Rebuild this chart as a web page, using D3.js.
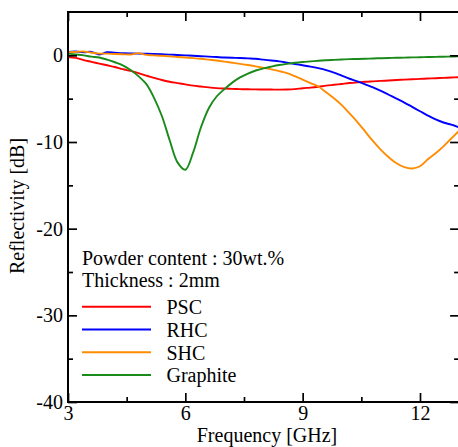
<!DOCTYPE html>
<html>
<head>
<meta charset="utf-8">
<script src="https://cdn.jsdelivr.net/npm/d3@7"></script>
<style>
  html, body { margin: 0; padding: 0; background: #fff; }
  svg { display: block; font-family: "Liberation Serif", "Times New Roman", serif; }
</style>
</head>
<body>
<svg id="chart" width="458" height="447"></svg>
<script>
// Frequency grid [GHz]
const freqGHz = [
  3.0, 3.2, 3.4, 3.6, 3.8, 4.0, 4.2, 4.4, 4.6, 4.8,
  5.0, 5.2, 5.4, 5.6, 5.8, 6.0, 6.2, 6.4, 6.6, 6.8,
  7.0, 7.2, 7.4, 7.6, 7.8, 8.0, 8.2, 8.4, 8.6, 8.8,
  9.0, 9.2, 9.4, 9.6, 9.8, 10.0, 10.2, 10.4, 10.6, 10.8,
  11.0, 11.2, 11.4, 11.6, 11.8, 12.0, 12.2, 12.4, 12.6, 12.8, 13.0
];

// Reflectivity [dB] for each sample
const pscDB = [
  -0.2, -0.3, -0.55, -0.75, -0.95, -1.15, -1.35, -1.6, -1.8, -2.05,
  -2.35, -2.6, -2.85, -3.05, -3.2, -3.35, -3.5, -3.6, -3.7, -3.78,
  -3.83, -3.87, -3.9, -3.92, -3.93, -3.94, -3.95, -3.96, -3.95, -3.9,
  -3.8, -3.72, -3.62, -3.5, -3.4, -3.3, -3.2, -3.12, -3.05, -3.0,
  -2.95, -2.9, -2.85, -2.8, -2.76, -2.72, -2.68, -2.64, -2.6, -2.56, -2.52
];
const rhcDB = [
  0.4, 0.45, 0.35, 0.4, 0.1, 0.35, 0.3, 0.25, 0.22, 0.2,
  0.18, 0.15, 0.12, 0.08, 0.04, 0.0, -0.05, -0.1, -0.15, -0.2,
  -0.25, -0.28, -0.3, -0.35, -0.4, -0.5, -0.6, -0.7, -0.85, -1.0,
  -1.15, -1.3, -1.48, -1.7, -2.0, -2.35, -2.7, -3.0, -3.35, -3.7,
  -4.1, -4.55, -5.0, -5.45, -5.95, -6.45, -6.95, -7.4, -7.75, -8.0, -8.3
];
const shcDB = [
  0.35, 0.4, 0.45, 0.3, 0.2, 0.2, 0.15, 0.12, 0.1, 0.25,
  0.05, 0.0, -0.05, -0.12, -0.2, -0.25, -0.32, -0.4, -0.5, -0.6,
  -0.72, -0.85, -0.98, -1.12, -1.28, -1.45, -1.62, -1.82, -2.05, -2.4,
  -2.8, -3.2, -3.6, -4.25, -4.95, -5.75, -6.7, -7.7, -8.8, -9.9,
  -10.9, -11.75, -12.45, -12.9, -13.05, -12.8, -12.0, -11.3, -10.5, -9.6, -8.7
];
const graphiteDB = [
  0.2, 0.1, 0.0, -0.15, -0.25, -0.5, -0.8, -1.15, -1.7, -2.4,
  -3.3, -4.9, -7.0, -9.8, -12.35, -13.2, -11.2, -8.3, -6.1, -4.75,
  -3.9, -3.15, -2.55, -2.1, -1.75, -1.5, -1.3, -1.12, -0.98, -0.86,
  -0.77, -0.7, -0.63, -0.57, -0.52, -0.48, -0.44, -0.42, -0.39, -0.36,
  -0.33, -0.3, -0.28, -0.26, -0.24, -0.22, -0.2, -0.18, -0.16, -0.14, -0.12
];

const seriesNames  = ["PSC", "RHC", "SHC", "Graphite"];
const seriesColors = ["#ff0000", "#0000ff", "#ff8c00", "#1a8a1a"];
const seriesValues = [pscDB, rhcDB, shcDB, graphiteDB];

// Axis ticks
const xMajorTicks = [3, 6, 9, 12];
const xMinorTicks = [4.5, 7.5, 10.5];
const yMajorTicks = [-40, -30, -20, -10, 0];
const yMinorTicks = [-35, -25, -15, -5];

const infoLines = ["Powder content : 30wt.%", "Thickness : 2mm"];

const svg = d3.select("#chart");
const plotLeft = 68, plotRight = 459.1, plotTop = 12, plotBottom = 402;

const x = d3.scaleLinear().domain([3, 13]).range([plotLeft, plotRight]);
const y = d3.scaleLinear().domain([-40, 5]).range([plotBottom, plotTop]);

svg.append("defs").append("clipPath").attr("id", "plotClip")
  .append("rect").attr("x", plotLeft).attr("y", plotTop)
  .attr("width", plotRight - plotLeft).attr("height", plotBottom - plotTop);

// Curves
const line = d3.line()
  .x((d, i) => x(freqGHz[i]))
  .y(d => y(d))
  .curve(d3.curveCatmullRom.alpha(0.5));

const curves = svg.append("g").attr("clip-path", "url(#plotClip)");
seriesValues.forEach((vals, k) => {
  curves.append("path")
    .datum(vals)
    .attr("d", line)
    .attr("fill", "none")
    .attr("stroke", seriesColors[k])
    .attr("stroke-width", 1.9)
    .attr("stroke-linejoin", "round");
});

// Tick marks (inward) on all four sides
function styleAxis(g) {
  g.select(".domain").remove();
  g.selectAll(".tick line").attr("stroke", "#000").attr("stroke-width", 1.7);
  g.selectAll("text").attr("fill", "#000").style("font-size", "20px")
    .style("font-family", "'Liberation Serif', 'Times New Roman', serif");
}
const fmt = d => String(d);

svg.append("g").attr("transform", `translate(0,${plotBottom})`)
  .call(d3.axisBottom(x).tickValues(xMajorTicks).tickSize(-9).tickPadding(4).tickFormat(fmt))
  .call(styleAxis);
svg.append("g").attr("transform", `translate(0,${plotBottom})`)
  .call(d3.axisBottom(x).tickValues(xMinorTicks).tickSize(-5).tickFormat(""))
  .call(styleAxis);
svg.append("g").attr("transform", `translate(0,${plotTop})`)
  .call(d3.axisTop(x).tickValues(xMajorTicks).tickSize(-9).tickFormat(""))
  .call(styleAxis);
svg.append("g").attr("transform", `translate(0,${plotTop})`)
  .call(d3.axisTop(x).tickValues(xMinorTicks).tickSize(-5).tickFormat(""))
  .call(styleAxis);

svg.append("g").attr("transform", `translate(${plotLeft},0)`)
  .call(d3.axisLeft(y).tickValues(yMajorTicks).tickSize(-9).tickPadding(5).tickFormat(fmt))
  .call(styleAxis);
svg.append("g").attr("transform", `translate(${plotLeft},0)`)
  .call(d3.axisLeft(y).tickValues(yMinorTicks).tickSize(-5).tickFormat(""))
  .call(styleAxis);
svg.append("g").attr("transform", `translate(${plotRight},0)`)
  .call(d3.axisRight(y).tickValues(yMajorTicks).tickSize(-9).tickFormat(""))
  .call(styleAxis);
svg.append("g").attr("transform", `translate(${plotRight},0)`)
  .call(d3.axisRight(y).tickValues(yMinorTicks).tickSize(-5).tickFormat(""))
  .call(styleAxis);

// Frame
svg.append("path")
  .attr("d", `M${plotRight},${plotTop}H${plotLeft}V${plotBottom}H${plotRight}V${plotTop}`)
  .attr("fill", "none").attr("stroke", "#000").attr("stroke-width", 2);

// Axis titles
svg.append("text")
  .attr("x", 267).attr("y", 442)
  .attr("text-anchor", "middle")
  .style("font-size", "20px")
  .text("Frequency [GHz]");

svg.append("text")
  .attr("transform", "translate(24,206) rotate(-90)")
  .attr("text-anchor", "middle")
  .style("font-size", "20px")
  .text("Reflectivity [dB]");

// Sample conditions and legend
infoLines.forEach((t, i) => {
  svg.append("text")
    .attr("x", 82).attr("y", 265 + i * 21.7)
    .style("font-size", "20px")
    .text(t);
});

const legend = svg.append("g");
seriesNames.forEach((name, i) => {
  const ly = 306.7 + i * 22.75;
  legend.append("line")
    .attr("x1", 82).attr("x2", 151)
    .attr("y1", ly).attr("y2", ly)
    .attr("stroke", seriesColors[i]).attr("stroke-width", 1.9);
  legend.append("text")
    .attr("x", 166.5).attr("y", ly + 7.3)
    .style("font-size", "20px")
    .text(name);
});
</script>
</body>
</html>
